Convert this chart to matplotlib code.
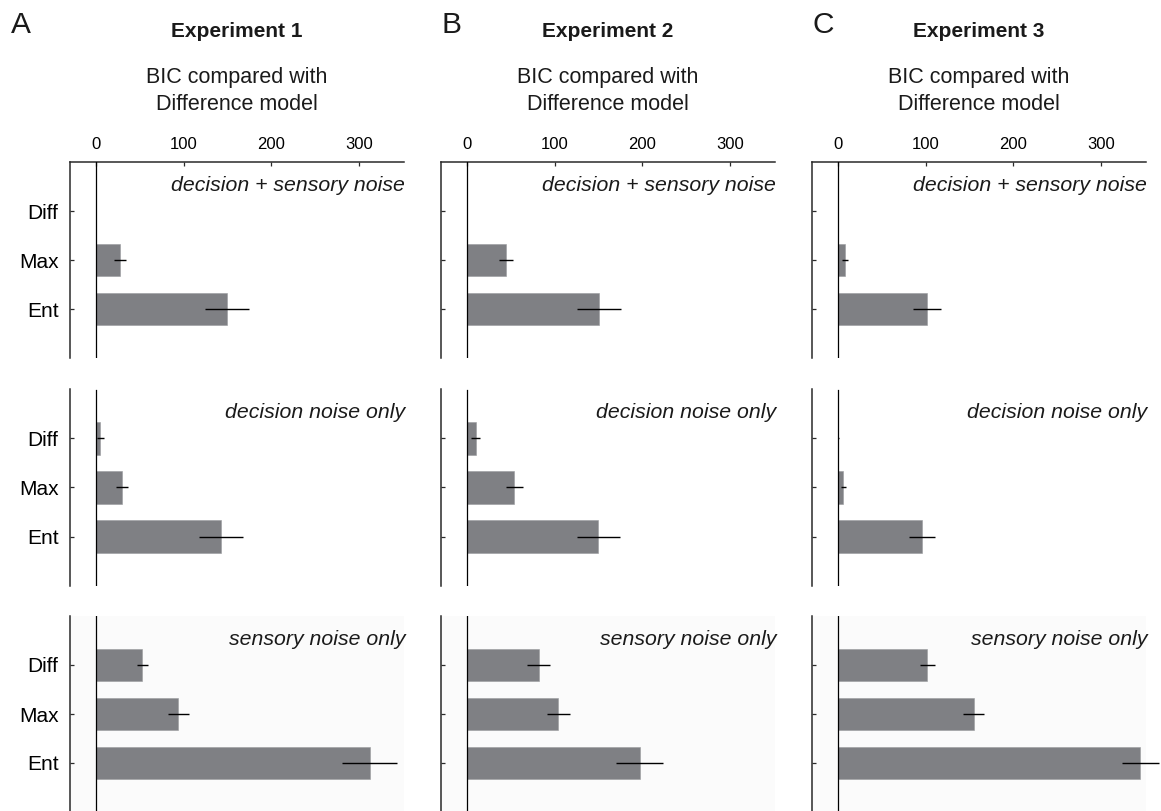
import matplotlib
matplotlib.use("Agg")
import matplotlib.pyplot as plt

plt.rcParams['font.family'] = ['Liberation Sans', 'DejaVu Sans']

# ---- data -------------------------------------------------------------
experiments = ['Experiment 1', 'Experiment 2', 'Experiment 3']
panel_letters = ['A', 'B', 'C']
conditions = ['decision + sensory noise', 'decision noise only', 'sensory noise only']
models = ['Diff', 'Max', 'Ent']
xticks = [0, 100, 200, 300]

# BIC relative to the Difference model, per experiment (rows = noise condition)
exp1_bic = [[0, 27, 149], [5, 30, 143], [53, 94, 312]]
exp1_err = [[0, 7, 25], [4, 7, 25], [6, 12, 31]]
exp2_bic = [[0, 45, 151], [10, 54, 150], [82, 104, 197]]
exp2_err = [[0, 8, 25], [5, 10, 24], [13, 13, 27]]
exp3_bic = [[0, 8, 101], [0.5, 6, 96], [102, 155, 345]]
exp3_err = [[0, 3, 16], [1, 3, 15], [9, 12, 21]]

bic = [exp1_bic, exp2_bic, exp3_bic]
err = [exp1_err, exp2_err, exp3_err]

# ---- layout (pixel geometry) -----------------------------------------
W, H = 1161, 811
fig = plt.figure(figsize=(W / 100, H / 100), dpi=100)

col_left = [69.7, 440.7, 811.7]
ax_w = 334.0
row_top = [162.3, 389.5, 616.0]
ax_h = 196.0

bar_color = '#7f8084'
spine_color = '#2a2a2a'
text_color = '#1a1a1a'


def px_rect(left, top, w, h):
    return [left / W, 1 - (top + h) / H, w / W, h / H]


for c in range(3):
    for r in range(3):
        ax = fig.add_axes(px_rect(col_left[c], row_top[r], ax_w, ax_h))
        if r == 2:
            ax.set_facecolor('#fbfbfb')
        ypos = list(range(len(models)))
        ax.barh(ypos, bic[c][r], height=0.66, color=bar_color,
                edgecolor='#9a9b9e', linewidth=0.4, zorder=2)
        ax.errorbar(bic[c][r], ypos, xerr=err[c][r], fmt='none',
                    ecolor='black', elinewidth=1.0, capsize=0,
                    zorder=3, clip_on=False)
        ax.axvline(0, color='black', linewidth=0.9, zorder=4)

        ax.set_xlim(-30, 351)
        ax.set_ylim(3.0, -1.0)

        for s in ['right', 'bottom']:
            ax.spines[s].set_visible(False)
        ax.spines['left'].set_color(spine_color)
        ax.spines['left'].set_linewidth(1.1)
        ax.spines['top'].set_color(spine_color)
        ax.spines['top'].set_linewidth(1.1)

        ax.set_yticks(ypos)
        if c == 0:
            ax.set_yticklabels(models, fontsize=15)
        else:
            ax.set_yticklabels([])
        ax.tick_params(axis='y', direction='in', length=3, width=0.9,
                       pad=8, colors=spine_color, labelcolor='black')

        if r == 0:
            ax.xaxis.set_ticks_position('top')
            ax.set_xticks(xticks)
            ax.set_xticklabels([str(t) for t in xticks], fontsize=12)
            ax.tick_params(axis='x', direction='in', length=3, width=0.9,
                           pad=7.5, colors=spine_color, labelcolor='black')
        else:
            ax.spines['top'].set_visible(False)
            ax.set_xticks([])

        ax.text(1.005, 1 - 29.0 / ax_h, conditions[r], transform=ax.transAxes,
                ha='right', va='baseline', fontsize=15.3, style='italic',
                color=text_color)

    # column headers
    cx = (col_left[c] + ax_w / 2) / W
    fig.text(cx, 1 - 36.7 / H, experiments[c], ha='center', va='baseline',
             fontsize=15, fontweight='bold', color=text_color)
    fig.text(cx, 1 - 83.0 / H, 'BIC compared with', ha='center',
             va='baseline', fontsize=15.5, color=text_color)
    fig.text(cx, 1 - 110.0 / H, 'Difference model', ha='center',
             va='baseline', fontsize=15.5, color=text_color)

letter_x = [10.5, 441.5, 812.0]
for c in range(3):
    fig.text(letter_x[c] / W, 1 - 33.3 / H, panel_letters[c], ha='left',
             va='baseline', fontsize=21.5, color=text_color)

fig.savefig('out.png', dpi=100)
